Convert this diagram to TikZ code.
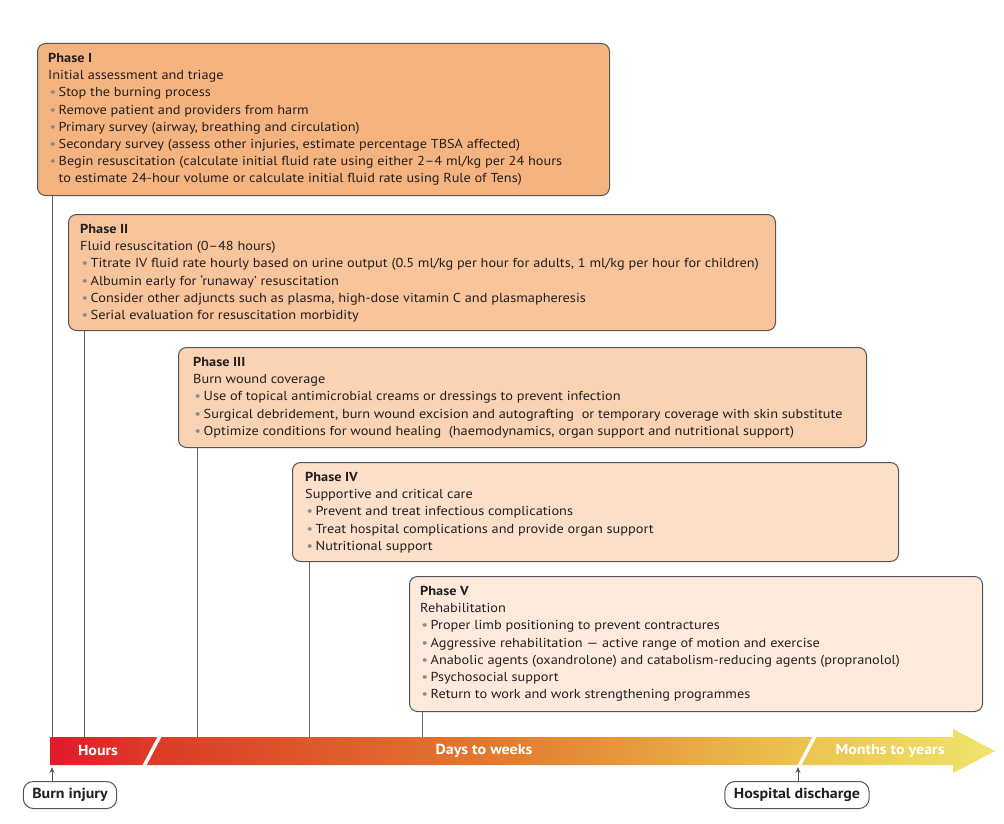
\documentclass[tikz,border=0pt]{standalone}
\usepackage{fontspec}
\setmainfont{PT Sans}[FakeStretch=1.1]
\usetikzlibrary{arrows.meta}
\definecolor{txt}{HTML}{231F20}
\definecolor{bulgray}{HTML}{8A8A8A}
\definecolor{frame}{HTML}{555555}
\definecolor{fa}{HTML}{F5B47F}
\definecolor{fb}{HTML}{F7C49B}
\definecolor{fc}{HTML}{F9D3B3}
\definecolor{fd}{HTML}{FBDFC8}
\definecolor{fe}{HTML}{FDEADC}
\definecolor{s0}{HTML}{E01B2A}
\definecolor{s1}{HTML}{DD3A28}
\definecolor{s2}{HTML}{DE562B}
\definecolor{s3}{HTML}{E1772F}
\definecolor{s4}{HTML}{E79E3F}
\definecolor{s5}{HTML}{EBC44F}
\definecolor{s6}{HTML}{F0E46C}
\pgfdeclarehorizontalshading{tlshade}{100bp}{color(0bp)=(s0); color(25bp)=(s0); color(30.2bp)=(s1); color(38.25bp)=(s2); color(47.75bp)=(s3); color(56.75bp)=(s4); color(64.7bp)=(s5); color(75bp)=(s6); color(100bp)=(s6)}
\newcommand{\bitem}{\hspace*{1.5pt}\makebox[9pt][l]{\textcolor{bulgray}{•}}}
\tikzset{
  phasebox/.style={draw=frame, line width=1pt, rounded corners=8pt, anchor=north west, inner sep=0pt},
  phasetext/.style={anchor=north west, inner sep=0pt, align=left, text=txt, font=\fontsize{13}{17.2}\selectfont},
  vline/.style={draw=frame!90, line width=0.8pt},
  tllabel/.style={text=white, font=\fontsize{14.5}{16}\selectfont\bfseries, inner sep=0pt},
  eventbox/.style={draw=frame, line width=1pt, rounded corners=10pt, fill=white, text=txt, font=\fontsize{14.5}{16}\selectfont\bfseries, inner xsep=9pt, minimum height=27pt},
  evarrow/.style={draw=frame, line width=0.9pt, -{Stealth[length=6pt,width=5pt]}}
}
\begin{document}
\begin{tikzpicture}[x=1pt,y=-1pt]
\useasboundingbox (0,0) rectangle (1004,824);
\coordinate (tltop) at (0,737);

% Phase boxes
\node[phasebox, fill=fa, minimum width=572pt, minimum height=152pt] (b1) at (37,43) {};
\node[phasetext] (t1) at (48,53) {\textbf{Phase I}\\
Initial assessment and triage\\
\bitem Stop the burning process\\
\bitem Remove patient and providers from harm\\
\bitem Primary survey (airway, breathing and circulation)\\
\bitem Secondary survey (assess other injuries, estimate percentage TBSA affected)\\
\bitem Begin resuscitation (calculate initial fluid rate using either 2–4 ml/kg per 24 hours\\
\hspace*{10.5pt}to estimate 24-hour volume or calculate initial fluid rate using Rule of Tens)};

\node[phasebox, fill=fb, minimum width=707pt, minimum height=116pt] (b2) at (68,214) {};
\node[phasetext] (t2) at (80,224) {\textbf{Phase II}\\
Fluid resuscitation (0–48 hours)\\
\bitem Titrate IV fluid rate hourly based on urine output (0.5 ml/kg per hour for adults, 1 ml/kg per hour for children)\\
\bitem Albumin early for ‘runaway’ resuscitation\\
\bitem Consider other adjuncts such as plasma, high-dose vitamin C and plasmapheresis\\
\bitem Serial evaluation for resuscitation morbidity};

\node[phasebox, fill=fc, minimum width=688pt, minimum height=100pt] (b3) at (178,347) {};
\node[phasetext] (t3) at (193,357) {\textbf{Phase III}\\
Burn wound coverage\\
\bitem Use of topical antimicrobial creams or dressings to prevent infection\\
\bitem Surgical debridement, burn wound excision and autografting \ or temporary coverage with skin substitute\\
\bitem Optimize conditions for wound healing \ (haemodynamics, organ support and nutritional support)};

\node[phasebox, fill=fd, minimum width=606pt, minimum height=99pt] (b4) at (292,462) {};
\node[phasetext] (t4) at (305,472) {\textbf{Phase IV}\\
Supportive and critical care\\
\bitem Prevent and treat infectious complications\\
\bitem Treat hospital complications and provide organ support\\
\bitem Nutritional support};

\node[phasebox, fill=fe, minimum width=573pt, minimum height=135pt] (b5) at (409,576) {};
\node[phasetext] (t5) at (420,586) {\textbf{Phase V}\\
Rehabilitation\\
\bitem Proper limb positioning to prevent contractures\\
\bitem Aggressive rehabilitation — active range of motion and exercise\\
\bitem Anabolic agents (oxandrolone) and catabolism-reducing agents (propranolol)\\
\bitem Psychosocial support\\
\bitem Return to work and work strengthening programmes};

% vertical lines to timeline
\draw[vline] ([xshift=15pt]b1.south west) -- ([xshift=15pt]b1.south west |- tltop);
\draw[vline] ([xshift=16pt]b2.south west) -- ([xshift=16pt]b2.south west |- tltop);
\draw[vline] ([xshift=19pt]b3.south west) -- ([xshift=19pt]b3.south west |- tltop);
\draw[vline] ([xshift=17pt]b4.south west) -- ([xshift=17pt]b4.south west |- tltop);
\draw[vline] ([xshift=13pt]b5.south west) -- ([xshift=13pt]b5.south west |- tltop);

% timeline arrow
\shade[shading=tlshade] (50,737) -- (953,737) -- (953,729) -- (995,751) -- (953,773) -- (953,765) -- (50,765) -- cycle;
\draw[white, line width=3.5pt] (161,734) -- (143,768);
\draw[white, line width=3.5pt] (816,734) -- (798,768);
\node[tllabel] (hours) at (98,751) {Hours};
\node[tllabel] (days) at (484,751) {Days to weeks};
\node[tllabel] (months) at (890,751) {Months to years};

% events
\node[eventbox] (burn) at (70,795) {Burn injury};
\node[eventbox] (disch) at (797,795) {Hospital discharge};
\coordinate (burnarr) at (52,767);
\coordinate (discharr) at (798,767);
\draw[evarrow] (burnarr |- burn.north) -- (burnarr);
\draw[evarrow] (discharr |- disch.north) -- (discharr);
\end{tikzpicture}
\end{document}
